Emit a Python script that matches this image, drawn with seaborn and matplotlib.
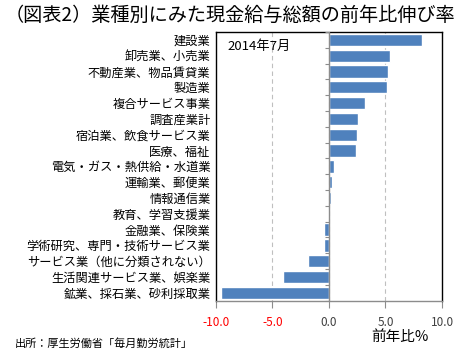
import numpy as np
import matplotlib
matplotlib.use("Agg")
import matplotlib.pyplot as plt
import seaborn as sns

# ---- Data -------------------------------------------------------------------
industries = [
    "建設業", "卸売業、小売業", "不動産業、物品賃貸業", "製造業",
    "複合サービス事業", "調査産業計", "宿泊業、飲食サービス業", "医療、福祉",
    "電気・ガス・熱供給・水道業", "運輸業、郵便業", "情報通信業",
    "教育、学習支援業", "金融業、保険業", "学術研究、専門・技術サービス業",
    "サービス業（他に分類されない）", "生活関連サービス業、娯楽業",
    "鉱業、採石業、砂利採取業",
]
growth = [8.2, 5.4, 5.2, 5.1, 3.2, 2.6, 2.5, 2.4, 0.4, 0.3, 0.2,
          -0.1, -0.4, -0.4, -1.9, -4.1, -9.6]
x_ticks = [-10.0, -5.0, 0.0, 5.0, 10.0]
x_tick_labels = ["-10.0", "-5.0", "0.0", "5.0", "10.0"]

BAR_BLUE = "#4F81BD"

sns.set_theme(style="white")
plt.rcParams["font.family"] = ["Noto Sans CJK JP", "DejaVu Sans"]
plt.rcParams["axes.unicode_minus"] = False

fig = plt.figure(figsize=(4.66, 3.62), dpi=100)
ax = fig.add_axes([0.4635, 0.1693, 0.485, 0.7423])

sns.barplot(x=growth, y=industries, color=BAR_BLUE, orient="h",
            width=0.78, saturation=1, ax=ax)

ax.set_xlim(-10, 10)
ax.set_ylim(len(industries) - 0.5, -0.5)

# dashed vertical gridlines
for xv in x_ticks[1:-1]:
    ax.axvline(xv, color="#BFBFBF", linestyle=(0, (4, 3)), linewidth=0.8, zorder=0)
# zero axis with small category ticks
ax.axvline(0, color="#8C8C8C", linewidth=1.0, zorder=3)
ax.hlines(np.arange(len(industries) + 1) - 0.5, -0.38, 0, color="#8C8C8C",
          linewidth=0.8, zorder=3)

ax.set_xticks(x_ticks)
ax.set_xticklabels(x_tick_labels, fontsize=8.5)
for lbl, v in zip(ax.get_xticklabels(), x_ticks):
    lbl.set_color("#FF0000" if v < 0 else "#404040")
ax.tick_params(axis="x", bottom=True, length=5, width=0.8, color="#8C8C8C", pad=6)
ax.tick_params(axis="y", left=False, length=0, pad=4, labelsize=8.8, labelcolor="black")
ax.set_xlabel("")
ax.set_ylabel("")

for side in ["left", "top", "right"]:
    ax.spines[side].set_color("black")
    ax.spines[side].set_linewidth(1.0)
ax.spines["bottom"].set_color("#8C8C8C")
ax.spines["bottom"].set_linewidth(1.0)

ax.text(0.053, 0.948, "2014年7月", transform=ax.transAxes, fontsize=9.5,
        ha="left", va="center", color="black")

fig.text(5 / 466, 1 - 15 / 362, "（図表2）業種別にみた現金給与総額の前年比伸び率",
         fontsize=13.8, ha="left", va="center", color="black")
fig.text(400 / 466, 1 - 337 / 362, "前年比%", fontsize=10.5,
         ha="center", va="center", color="black")
fig.text(15 / 466, 1 - 344 / 362, "出所：厚生労働省「毎月勤労統計」", fontsize=8,
         ha="left", va="center", color="black")

fig.savefig("out.png", dpi=100, facecolor="white")
